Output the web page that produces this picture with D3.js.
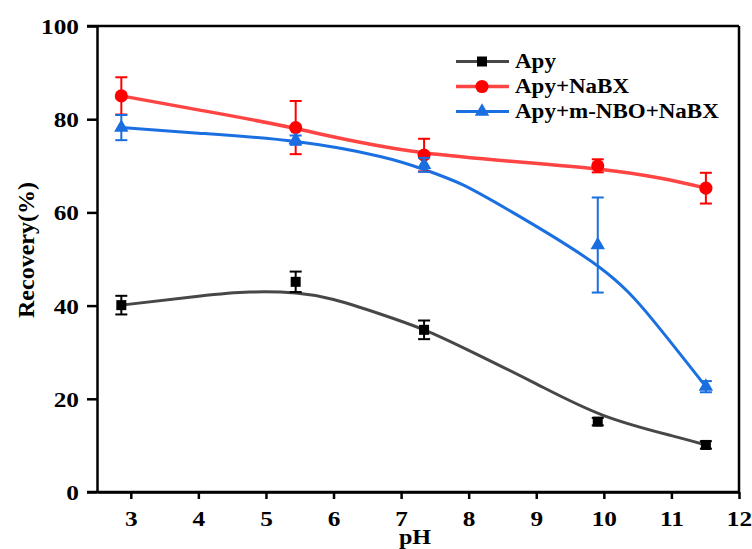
<!DOCTYPE html>
<html>
<head>
<meta charset="utf-8">
<script src="https://cdn.jsdelivr.net/npm/d3@7"></script>
<style>
  html, body { margin: 0; padding: 0; background: #fff; }
  svg { display: block; }
  text { font-family: "Liberation Serif", "Times New Roman", serif; font-weight: bold; fill: #000; }
</style>
</head>
<body>
<svg id="chart" width="752" height="549"></svg>
<script>
// Measured pH values and recoveries (mean ± error)
const pH = [2.86, 5.44, 7.34, 9.91, 11.51];
const apy = [40.1, 45.1, 34.8, 15.1, 10.1];
const apyErr = [2.0, 2.2, 2.0, 0.8, 0.8];
const apyNaBX = [85.0, 78.2, 72.3, 70.0, 65.2];
const apyNaBXErr = [4.0, 5.7, 3.5, 1.4, 3.3];
const apyNBO = [78.2, 75.5, 70.2, 53.0, 22.6];
const apyNBOErr = [2.7, 1.0, 1.5, 10.2, 1.2];

// Fitted trend curves
const apyFitPH = [2.86, 4.0, 4.76, 5.44, 6.0, 6.69, 7.34, 8.0, 9.0, 10.0, 11.0, 11.51];
const apyFit = [40.1, 42.0, 42.9, 42.7, 41.3, 38.2, 34.8, 30.4, 23.2, 16.4, 12.1, 10.1];
const naBXFitPH = [2.86, 4.0, 5.44, 7.34, 9.91, 11.51];
const naBXFit = [85.0, 82.0, 78.0, 72.8, 69.3, 65.2];
const nboFitPH = [2.86, 4.0, 5.44, 6.69, 7.34, 7.9, 8.65, 9.91, 10.72, 11.51];
const nboFit = [78.2, 77.0, 75.2, 72.0, 69.2, 66.0, 60.0, 48.5, 37.0, 22.6];

const seriesNames = ["Apy", "Apy+NaBX", "Apy+m-NBO+NaBX"];
const xTicks = [3, 4, 5, 6, 7, 8, 9, 10, 11, 12];
const yTicks = [0, 20, 40, 60, 80, 100];

const series = [
  { name: seriesNames[0], y: apy, err: apyErr, fx: apyFitPH, fy: apyFit,
    line: "#474747", mark: "#000000", shape: d3.symbolSquare, size: 100, lw: 3 },
  { name: seriesNames[1], y: apyNaBX, err: apyNaBXErr, fx: naBXFitPH, fy: naBXFit,
    line: "#ff4444", mark: "#ff0000", shape: d3.symbolCircle, size: 135, lw: 3.5 },
  { name: seriesNames[2], y: apyNBO, err: apyNBOErr, fx: nboFitPH, fy: nboFit,
    line: "#1a70e0", mark: "#1a6ee0", shape: d3.symbolTriangle, size: 90, lw: 3 }
];

const svg = d3.select("#chart");
const L = 97, R = 739, T = 26, B = 492;
const x = d3.scaleLinear().domain([2.5, 12]).range([L, R]);
const y = d3.scaleLinear().domain([0, 100]).range([B, T]);
const stretch = 1.15; // wide bold serif lettering

// Fitted curves
const lineGen = d3.line().curve(d3.curveNatural);
series.forEach(s => {
  svg.append("path")
    .attr("d", lineGen(s.fx.map((v, i) => [x(v), y(s.fy[i])])))
    .attr("fill", "none")
    .attr("stroke", s.line)
    .attr("stroke-width", s.lw)
    .attr("stroke-linecap", "round");
});

// Error bars and markers
const cap = 6;
series.forEach(s => {
  const g = svg.append("g");
  pH.forEach((p, i) => {
    const cx = x(p), hi = y(s.y[i] + s.err[i]), lo = y(s.y[i] - s.err[i]);
    g.append("line").attr("x1", cx).attr("x2", cx).attr("y1", hi).attr("y2", lo)
      .attr("stroke", s.mark).attr("stroke-width", 2);
    [hi, lo].forEach(yy => g.append("line")
      .attr("x1", cx - cap).attr("x2", cx + cap).attr("y1", yy).attr("y2", yy)
      .attr("stroke", s.mark).attr("stroke-width", 2));
  });
  g.selectAll("path.pt").data(pH).join("path")
    .attr("class", "pt")
    .attr("transform", (p, i) => `translate(${x(p)},${y(s.y[i])})`)
    .attr("d", d3.symbol().type(s.shape).size(s.size))
    .attr("fill", s.mark);
});

// Axes
const xAxis = svg.append("g").attr("transform", `translate(0,${B})`)
  .call(d3.axisBottom(x).tickValues(xTicks).tickFormat(d3.format("d")).tickSize(7).tickSizeOuter(0));
const yAxis = svg.append("g").attr("transform", `translate(${L},0)`)
  .call(d3.axisLeft(y).tickValues(yTicks).tickSize(10).tickSizeOuter(0));
[xAxis, yAxis].forEach(a => {
  a.select(".domain").attr("stroke", "#000").attr("stroke-width", 2.5);
  a.selectAll(".tick line").attr("stroke", "#000").attr("stroke-width", 2.5);
  a.selectAll(".tick text").style("font-size", "22px").attr("fill", "#000")
    .attr("transform", `scale(${stretch},1)`);
});
xAxis.selectAll(".tick text").attr("y", 34).attr("dy", 0);
yAxis.selectAll(".tick text").attr("x", -18 / stretch).attr("dy", "0.34em");
// extend baseline to the left to meet the 0 tick
svg.append("line").attr("x1", L - 10).attr("x2", R).attr("y1", B).attr("y2", B)
  .attr("stroke", "#000").attr("stroke-width", 2.5);
// top and right frame
svg.append("line").attr("x1", L - 10).attr("x2", R).attr("y1", T).attr("y2", T)
  .attr("stroke", "#000").attr("stroke-width", 2.5);
svg.append("line").attr("x1", R).attr("x2", R).attr("y1", T).attr("y2", B)
  .attr("stroke", "#000").attr("stroke-width", 2.5);

// Axis titles
svg.append("text").attr("transform", `translate(415,544) scale(${stretch},1)`)
  .attr("text-anchor", "middle").style("font-size", "21px").text("pH");
svg.append("text").attr("transform", "translate(34,250) rotate(-90)")
  .attr("text-anchor", "middle").style("font-size", "24px").text("Recovery(%)");

// Legend
const legend = svg.append("g");
series.forEach((s, i) => {
  const ly = 61.5 + i * 25;
  legend.append("line").attr("x1", 456).attr("x2", 509).attr("y1", ly).attr("y2", ly)
    .attr("stroke", s.line).attr("stroke-width", s.lw);
  legend.append("path").attr("transform", `translate(482,${ly})`)
    .attr("d", d3.symbol().type(s.shape).size(s.size)).attr("fill", s.mark);
  legend.append("text").attr("transform", `translate(515,${ly}) scale(${stretch},1)`)
    .attr("dy", "0.34em").style("font-size", "20px").text(s.name);
});
</script>
</body>
</html>
